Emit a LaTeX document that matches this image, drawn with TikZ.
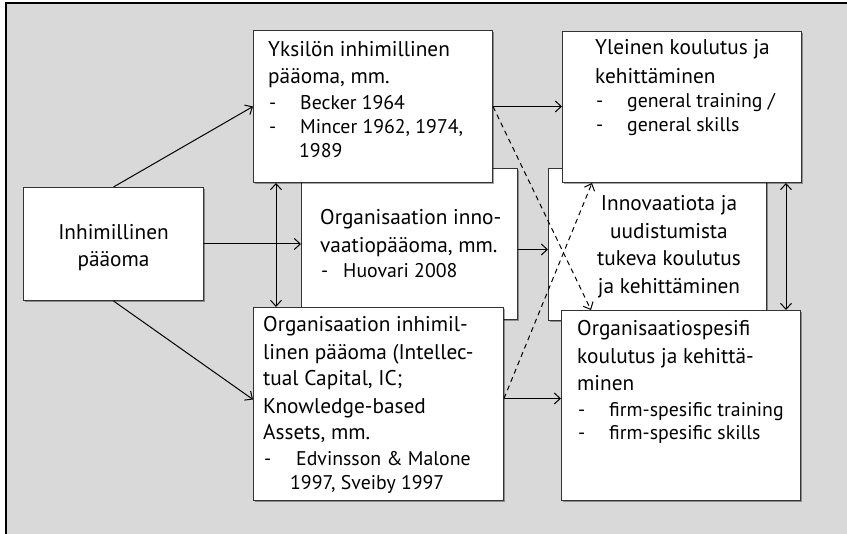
\documentclass[tikz,border=0pt]{standalone}
\usepackage{fontspec}
\setmainfont{PT Sans}
\usetikzlibrary{arrows.meta,shadows,calc}

\definecolor{panelgray}{HTML}{D9D9D9}
\definecolor{boxline}{HTML}{333333}

\tikzset{
  box/.style={draw=boxline, line width=1pt, fill=white, inner sep=0pt,
    anchor=north west,
    drop shadow={shadow xshift=1.5pt, shadow yshift=-1.5pt, fill=black, opacity=0.35}},
  ttl/.style={font=\fontsize{21.3}{25}\selectfont, anchor=base west, inner sep=0pt},
  ttlc/.style={font=\fontsize{21.3}{25}\selectfont, anchor=base, inner sep=0pt},
  sm/.style={font=\fontsize{19.8}{23}\selectfont, anchor=base west, inner sep=0pt},
  link/.style={line width=1pt, -{Straight Barb[length=6pt,width=11pt]}},
  link2/.style={line width=1pt, {Straight Barb[length=6pt,width=11pt]}-{Straight Barb[length=6pt,width=11pt]}},
  dlink/.style={link, dashed, dash pattern=on 5pt off 4pt},
}

\begin{document}
\begin{tikzpicture}[x=1pt,y=-1pt]
  \useasboundingbox (0,0) rectangle (847,534);
  % panel
  \fill[panelgray] (6,3) rectangle (847,534);
  \draw[line width=1.2pt] (6,534) -- (6,3) -- (847,3);

  % middle boxes (behind the others)
  \node[box, minimum width=216pt, minimum height=151pt] (mid) at (301,168) {};
  \node[box, minimum width=218pt, minimum height=152pt] (inn) at (548,168) {};

  % main boxes
  \node[box, minimum width=180pt, minimum height=113pt] (inh) at (23,187) {};
  \node[box, minimum width=239pt, minimum height=152pt] (yks) at (253,30) {};
  \node[box, minimum width=239pt, minimum height=151pt] (yle) at (562,31) {};
  \node[box, minimum width=250pt, minimum height=193pt] (oih) at (253,307) {};
  \node[box, minimum width=239pt, minimum height=190pt] (osp) at (561,310) {};

  % texts: Inhimillinen pääoma
  \node[ttlc] (inhA) at (113.5,239.3) {Inhimillinen};
  \node[ttlc] (inhB) at (113.5,266.7) {pääoma};

  % texts: Yksilön inhimillinen pääoma
  \node[ttl] (yksA) at (268,56.7) {Yksilön inhimillinen};
  \node[ttl] (yksB) at (268,83.3) {pääoma, mm.};
  \node[sm] (yksC0) at (269,109.3) {-};
  \node[sm] (yksC) at (300,109.3) {Becker 1964};
  \node[sm] (yksD0) at (269,133.3) {-};
  \node[sm] (yksD) at (300,133.3) {Mincer 1962, 1974,};
  \node[sm] (yksE) at (299,157.3) {1989};

  % texts: Yleinen koulutus
  \node[ttl] (yleA) at (595,55) {Yleinen koulutus ja};
  \node[ttl] (yleB) at (595,83.3) {kehittäminen};
  \node[sm] (yleC0) at (596,107.3) {-};
  \node[sm] (yleC) at (627,107.3) {general training /};
  \node[sm] (yleD0) at (596,131.7) {-};
  \node[sm] (yleD) at (627,131.7) {general skills};

  % texts: Organisaation innovaatiopääoma
  \node[ttl] (midA) at (320,224.3) {Organisaation inno-};
  \node[ttl] (midB) at (320,252.7) {vaatiopääoma, mm.};
  \node[sm] (midC0) at (321,277.3) {-};
  \node[sm] (midC) at (343,277.3) {Huovari 2008};

  % texts: Innovaatiota ja uudistumista
  \node[ttlc] (innA) at (669,211) {Innovaatiota ja};
  \node[ttlc] (innB) at (669,238.3) {uudistumista};
  \node[ttlc] (innC) at (669,266) {tukeva koulutus};
  \node[ttlc] (innD) at (669,293.3) {ja kehittäminen};

  % texts: Organisaation inhimillinen pääoma
  \node[ttl] (oihA) at (263,331.7) {Organisaation inhimil-};
  \node[ttl] (oihB) at (263,359.3) {linen pääoma (Intellec-};
  \node[ttl] (oihC) at (263,386) {tual Capital, IC;};
  \node[ttl] (oihD) at (263,413.3) {Knowledge-based};
  \node[ttl] (oihE) at (263,440) {Assets, mm.};
  \node[sm] (oihF0) at (264,466) {-};
  \node[sm] (oihF) at (296,466) {Edvinsson \& Malone};
  \node[sm] (oihG) at (290,489.3) {1997, Sveiby 1997};

  % texts: Organisaatiospesifi koulutus
  \node[ttl] (ospA) at (577,336) {Organisaatiospesifi};
  \node[ttl] (ospB) at (577,363.3) {koulutus ja kehittä-};
  \node[ttl] (ospC) at (577,390.7) {minen};
  \node[sm] (ospD0) at (578,416.7) {-};
  \node[sm] (ospD) at (609,416.7) {firm-spesific training};
  \node[sm] (ospE0) at (578,440) {-};
  \node[sm] (ospE) at (609,440) {firm-spesific skills};

  % connectors
  \draw[link] (inh.north) -- (yks.west);
  \draw[link] (inh.south) -- ([yshift=4.5pt]oih.west);
  \draw[link] (inh.east) -- (inh.east -| mid.west);
  \draw[link] (yks.east) -- (yks.east -| yle.west);
  \draw[link] ([yshift=-5.5pt]mid.east) -- ([yshift=-5.5pt]mid.east -| inn.west);
  \draw[link] ([yshift=5.5pt]oih.east) -- ([yshift=5.5pt]oih.east -| osp.west);

  \coordinate (lx) at ($(yks.south west)+(23,0)$);
  \draw[link2] (lx) -- (lx |- oih.north);
  \coordinate (rx) at ($(yle.south east)+(-16,0)$);
  \draw[link2] (rx) -- (rx |- osp.north);

  \draw[dlink] (yks.east) -- ($(osp.north west)+(30,0)$);
  \draw[dlink] ([yshift=5.5pt]oih.east) -- ($(yle.south west)+(30,0)$);
\end{tikzpicture}
\end{document}
